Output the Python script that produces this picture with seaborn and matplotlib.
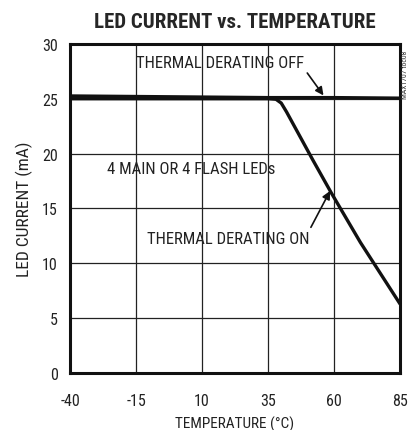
import numpy as np
import pandas as pd
import seaborn as sns
import matplotlib
matplotlib.use('Agg')
import matplotlib.pyplot as plt

# values
temp_off = [-40, -15, 10, 35, 60, 85]
led_off = [25.25, 25.2, 25.15, 25.1, 25.1, 25.05]
temp_on = [-40, 10, 35, 38, 40, 42, 52, 59, 70, 85]
led_on = [25.0, 25.0, 25.0, 24.95, 24.6, 23.8, 19.4, 16.4, 11.9, 6.3]

x_ticks = [-40, -15, 10, 35, 60, 85]
y_ticks = [0, 5, 10, 15, 20, 25, 30]

df = pd.concat([
    pd.DataFrame({'temp': temp_off, 'current': led_off, 'mode': 'off'}),
    pd.DataFrame({'temp': temp_on, 'current': led_on, 'mode': 'on'}),
])

sns.set_style('white')
plt.rcParams['font.family'] = ['Liberation Sans Narrow', 'DejaVu Sans Condensed',
                               'Roboto Condensed', 'Liberation Sans', 'DejaVu Sans']
plt.rcParams['axes.unicode_minus'] = False

fig = plt.figure(figsize=(4.12, 4.31), dpi=100)
ax = fig.add_axes([0.170, 0.132, 0.801, 0.764])

sns.lineplot(data=df, x='temp', y='current', hue='mode', palette=['#111111', '#111111'],
             linewidth=2.4, legend=False, ax=ax, sort=False)

ax.set_xlim(-40, 85)
ax.set_ylim(0, 30)
ax.set_xticks(x_ticks)
ax.set_yticks(y_ticks)
ax.tick_params(length=0, labelsize=11.5, colors='#222222')
ax.tick_params(axis='x', pad=14)
ax.tick_params(axis='y', pad=9)
ax.grid(True, color='#222222', linewidth=0.9)
for s in ax.spines.values():
    s.set_linewidth(2.2)
    s.set_color('#111111')

ax.set_xlabel('TEMPERATURE (°C)', fontsize=11, color='#222222', labelpad=6)
ax.set_ylabel('LED CURRENT (mA)', fontsize=12.5, color='#222222', labelpad=6)
ax.set_title('LED CURRENT vs. TEMPERATURE', fontsize=15, fontweight='heavy', pad=12)

ax.annotate('THERMAL DERATING OFF', xy=(56, 25.3), xytext=(16.8, 28.3),
            fontsize=12, color='#222222', ha='center', va='center',
            arrowprops=dict(arrowstyle='-|>', color='#111111', lw=1.2,
                            shrinkA=0, shrinkB=0, mutation_scale=12,
                            relpos=(1.0, 0.1)))
ax.text(-26, 18.6, '4 MAIN OR 4 FLASH LEDs', fontsize=12, color='#222222', va='center')
ax.annotate('THERMAL DERATING ON', xy=(58.5, 16.6), xytext=(19.8, 12.3),
            fontsize=12, color='#222222', ha='center', va='center',
            arrowprops=dict(arrowstyle='-|>', color='#111111', lw=1.2,
                            shrinkA=0, shrinkB=0, mutation_scale=12,
                            relpos=(1.0, 1.0)))
fig.text(0.983, 0.826, 'MAX1707 toc08', rotation=90, fontsize=5.5, color='#333333',
         ha='center', va='center')

fig.savefig('out.png', dpi=100)
